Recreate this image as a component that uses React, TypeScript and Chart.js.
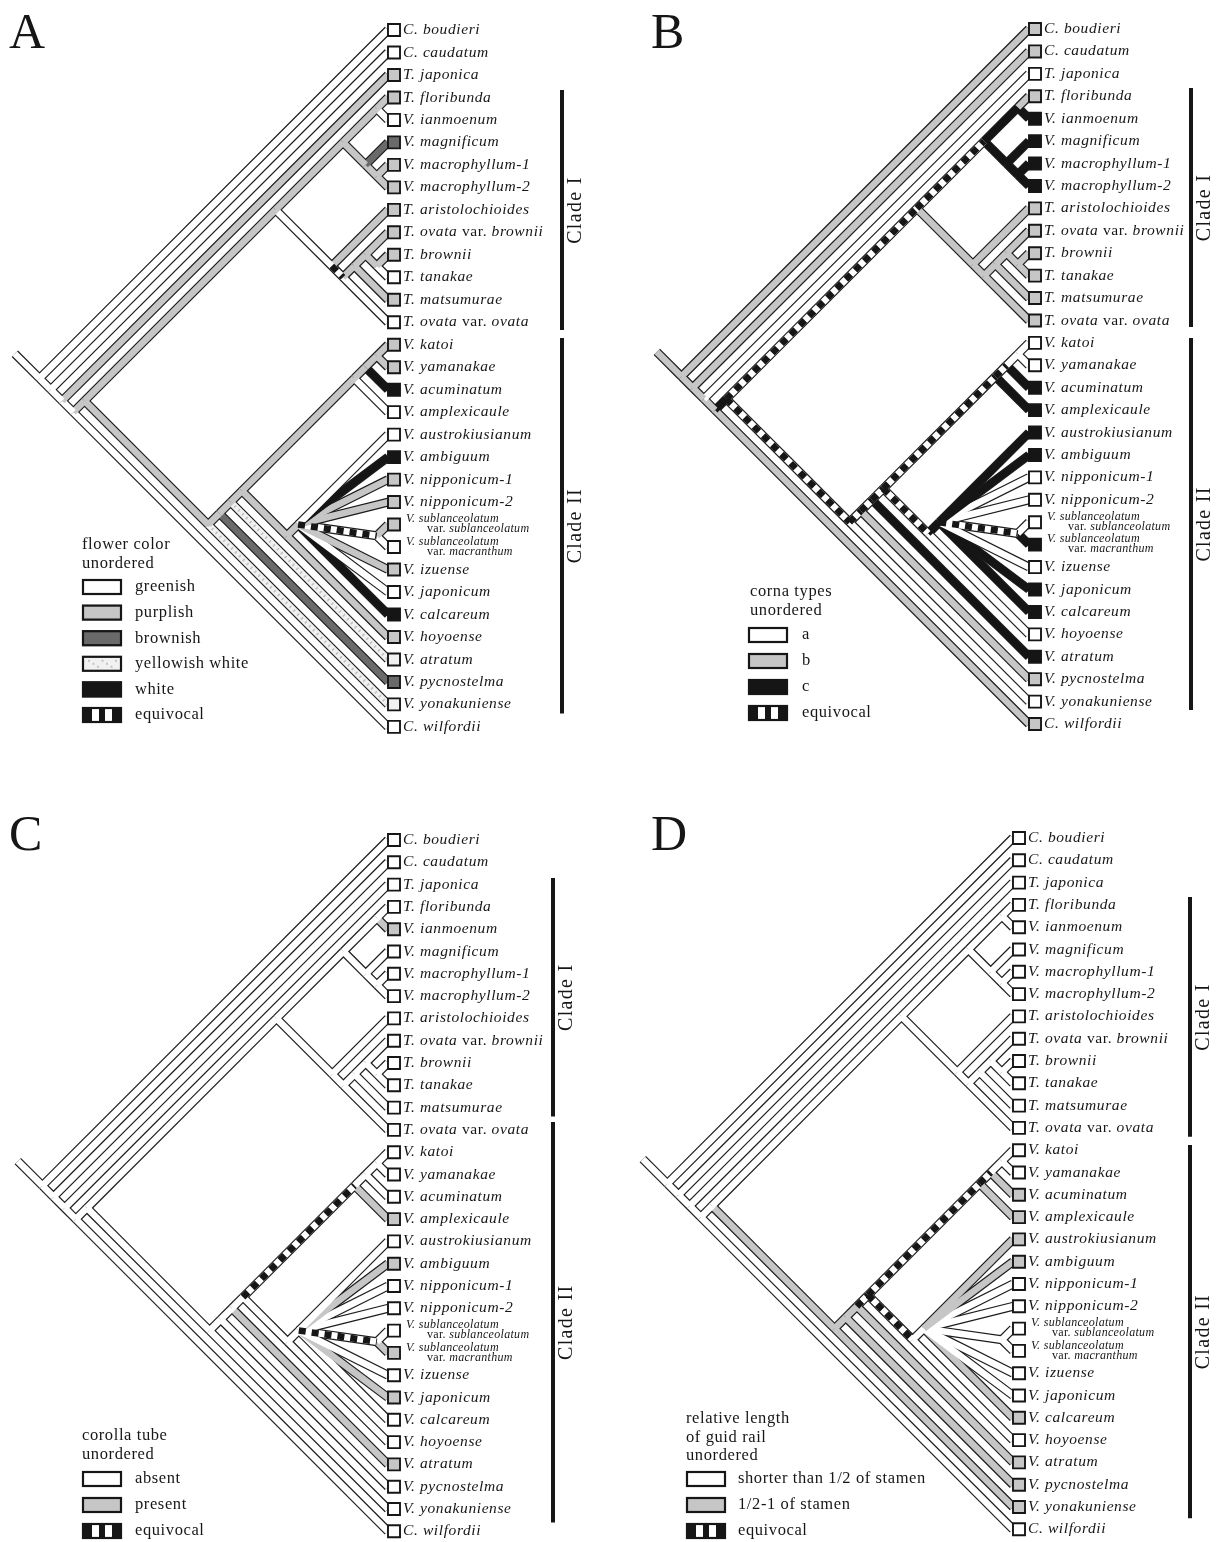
import React, { useEffect, useRef } from "react";
import { Chart, registerables } from "chart.js";

Chart.register(...registerables);

const EQ = -1;

const TAXA: string[] = [
  "C. boudieri",
  "C. caudatum",
  "T. japonica",
  "T. floribunda",
  "V. ianmoenum",
  "V. magnificum",
  "V. macrophyllum-1",
  "V. macrophyllum-2",
  "T. aristolochioides",
  "T. ovata var. brownii",
  "T. brownii",
  "T. tanakae",
  "T. matsumurae",
  "T. ovata var. ovata",
  "V. katoi",
  "V. yamanakae",
  "V. acuminatum",
  "V. amplexicaule",
  "V. austrokiusianum",
  "V. ambiguum",
  "V. nipponicum-1",
  "V. nipponicum-2",
  "V. sublanceolatum\nvar. sublanceolatum",
  "V. sublanceolatum\nvar. macranthum",
  "V. izuense",
  "V. japonicum",
  "V. calcareum",
  "V. hoyoense",
  "V. atratum",
  "V. pycnostelma",
  "V. yonakuniense",
  "C. wilfordii",
];

// internal nodes: [id, children]; numbers are tip indices into TAXA
const TREE: [string, (string | number)[]][] = [
  ["root", [0, "n1"]],
  ["n1", [1, "n2"]],
  ["n2", [2, "n3"]],
  ["n3", ["cladeIandII", 31]],
  ["cladeIandII", ["cladeI", "cladeII"]],
  ["cladeI", ["Ia", "Ib"]],
  ["Ia", ["floribundaPair", "magnificumGroup"]],
  ["floribundaPair", [3, 4]],
  ["magnificumGroup", [5, "macrophyllumPair"]],
  ["macrophyllumPair", [6, 7]],
  ["Ib", [8, "ovataGroup"]],
  ["ovataGroup", ["matsumuraeGroup", 13]],
  ["matsumuraeGroup", ["browniiGroup", 12]],
  ["browniiGroup", [9, "tanakaePair"]],
  ["tanakaePair", [10, 11]],
  ["cladeII", ["pycnostelmaGroup", 30]],
  ["pycnostelmaGroup", ["atratumGroup", 29]],
  ["atratumGroup", ["coreII", 28]],
  ["coreII", ["katoiGroup", "hoyoenseGroup"]],
  ["katoiGroup", ["acuminatumGroup", 17]],
  ["acuminatumGroup", ["katoiPair", 16]],
  ["katoiPair", [14, 15]],
  ["hoyoenseGroup", ["nipponicumFan", 27]],
  ["nipponicumFan", [18, 19, 20, 21, "sublanceolatumPair", 24, 25, 26]],
  ["sublanceolatumPair", [22, 23]],
];

// ---- A: flower color
const LEGEND_A = ["greenish", "purplish", "brownish", "yellowish white", "white"];
const STYLES_A = ["white", "grey", "dark", "speck", "black"];
const TIP_STATES_A = [0, 0, 1, 1, 0, 2, 1, 1, 1, 1, 1, 0, 1, 0, 1, 1, 4, 0, 0, 4, 1, 1, 1, 0, 1, 0, 4, 1, 3, 2, 3, 0];
const NODE_STATES_A = [0, 0, 0, 0, 1, 1, 1, 1, 1, 1, 0, EQ, 1, 1, 1, 1, 1, 1, 1, 1, 1, 1, 1, 1, EQ];

// ---- B: corona types
const LEGEND_B = ["a", "b", "c"];
const STYLES_B = ["white", "grey", "black"];
const TIP_STATES_B = [1, 1, 0, 1, 2, 2, 2, 2, 1, 1, 1, 1, 1, 1, 0, 0, 2, 2, 2, 2, 0, 0, 0, 2, 0, 2, 2, 0, 2, 1, 0, 1];
const NODE_STATES_B = [1, 1, 1, 1, 2, EQ, EQ, 2, 2, 2, 1, 1, 1, 1, 1, EQ, EQ, EQ, EQ, EQ, EQ, 0, EQ, 2, EQ];

// ---- C: corolla tube
const LEGEND_C = ["absent", "present"];
const STYLES_C = ["white", "grey"];
const TIP_STATES_C = [0, 0, 0, 0, 1, 0, 0, 0, 0, 0, 0, 0, 0, 0, 0, 0, 0, 1, 0, 1, 0, 0, 0, 1, 0, 1, 0, 0, 1, 0, 0, 0];
const NODE_STATES_C = [0, 0, 0, 0, 0, 0, 0, 0, 0, 0, 0, 0, 0, 0, 0, 0, 0, 0, 0, EQ, 0, 0, 0, 0, EQ];

// ---- D: relative length of guide rail
const LEGEND_D = ["shorter than 1/2 of stamen", "1/2-1 of stamen"];
const STYLES_D = ["white", "grey"];
const TIP_STATES_D = [0, 0, 0, 0, 0, 0, 0, 0, 0, 0, 0, 0, 0, 0, 0, 0, 1, 1, 1, 1, 0, 0, 0, 0, 0, 0, 1, 0, 1, 1, 1, 0];
const NODE_STATES_D = [0, 0, 0, 0, 0, 0, 0, 0, 0, 0, 0, 0, 0, 0, 0, 1, 1, 1, EQ, EQ, EQ, 0, EQ, 0, 0];

type Pt = { x: number; y: number };
type Panel = {
  letter: string;
  left: number;
  top: number;
  tipX: number;
  y0: number;
  step: number;
  barX: number;
  bars: [number, number, string][];
  tips: number[];
  nodes: number[];
  legend: string[];
  styles: string[];
  legendTitle: string[];
  lg: { x: number; titleY: number; titleStep: number; swX: number; labelX: number; itemY: number; itemStep: number };
};

const PANELS: Panel[] = [
  {
    letter: "A", left: 0, top: 0, tipX: 388, y0: 30, step: 22.48, barX: 562,
    bars: [[2.67, 13.35, "Clade I"], [13.7, 30.4, "Clade II"]],
    tips: TIP_STATES_A, nodes: NODE_STATES_A, legend: LEGEND_A, styles: STYLES_A,
    legendTitle: ["flower color", "unordered"],
    lg: { x: 82, titleY: 545, titleStep: 18.5, swX: 82, labelX: 135, itemY: 587, itemStep: 25.6 },
  },
  {
    letter: "B", left: 611, top: 0, tipX: 418, y0: 29, step: 22.42, barX: 580,
    bars: [[2.63, 13.29, "Clade I"], [13.78, 30.37, "Clade II"]],
    tips: TIP_STATES_B, nodes: NODE_STATES_B, legend: LEGEND_B, styles: STYLES_B,
    legendTitle: ["corna types", "unordered"],
    lg: { x: 139, titleY: 592, titleStep: 18.5, swX: 137, labelX: 191, itemY: 635, itemStep: 26 },
  },
  {
    letter: "C", left: 0, top: 771, tipX: 388, y0: 69, step: 22.3, barX: 553,
    bars: [[1.7, 12.4, "Clade I"], [12.65, 30.6, "Clade II"]],
    tips: TIP_STATES_C, nodes: NODE_STATES_C, legend: LEGEND_C, styles: STYLES_C,
    legendTitle: ["corolla tube", "unordered"],
    lg: { x: 82, titleY: 665, titleStep: 19, swX: 82, labelX: 135, itemY: 708, itemStep: 26 },
  },
  {
    letter: "D", left: 611, top: 771, tipX: 402, y0: 67, step: 22.3, barX: 579,
    bars: [[2.65, 13.4, "Clade I"], [13.77, 30.5, "Clade II"]],
    tips: TIP_STATES_D, nodes: NODE_STATES_D, legend: LEGEND_D, styles: STYLES_D,
    legendTitle: ["relative length", "of guid rail", "unordered"],
    lg: { x: 75, titleY: 648, titleStep: 18.5, swX: 75, labelX: 127, itemY: 708, itemStep: 26 },
  },
];

const W = 611;
const H = 771;
const STUB = 1.1;
const OUTLINE = "#1c1c1c";
const INK = "#161616";
const SERIF = '"Liberation Serif", "Times New Roman", Times, serif';
const FILL: Record<string, string> = {
  white: "#ffffff",
  grey: "#c6c6c6",
  dark: "#6a6a6a",
  speck: "#f1f1f1",
  black: "#151515",
};

const childMap = new Map<string, (string | number)[]>(TREE.map(([id, kids]) => [id, kids]));
const nodeIndex = new Map<string, number>(TREE.map(([id], i) => [id, i]));

function tipSpan(id: string | number): [number, number] {
  if (typeof id === "number") return [id, id];
  let lo = Infinity;
  let hi = -Infinity;
  for (const k of childMap.get(id)!) {
    const [a, b] = tipSpan(k);
    lo = Math.min(lo, a);
    hi = Math.max(hi, b);
  }
  return [lo, hi];
}

function nodePos(id: string | number): Pt {
  const [lo, hi] = tipSpan(id);
  return { x: -(hi - lo) / 2, y: (lo + hi) / 2 };
}

function buildDatasets(p: Panel) {
  const branches: { a: Pt; b: Pt; s: number }[] = [];
  const r = nodePos("root");
  branches.push({ a: { x: r.x - STUB, y: r.y - STUB }, b: r, s: p.nodes[0] });
  for (const [id, kids] of TREE) {
    const pp = nodePos(id);
    for (const k of kids) {
      const s = typeof k === "number" ? p.tips[k] : p.nodes[nodeIndex.get(k)!];
      branches.push({ a: pp, b: nodePos(k), s });
    }
  }
  const line = (data: Pt[], color: string, width: number, order: number, dash: number[] = []) => ({
    data,
    showLine: true,
    borderColor: color,
    borderWidth: width,
    pointRadius: 0,
    pointHoverRadius: 0,
    borderCapStyle: "butt",
    borderDash: dash,
    order,
    clip: false,
  });
  const ds: any[] = [];
  for (const br of branches) {
    const data = [br.a, br.b];
    ds.push(line(data, OUTLINE, 9, 6));
    const style = br.s === EQ ? "white" : p.styles[br.s];
    ds.push(line(data, FILL[style], 6.6, 5));
    if (br.s === EQ) ds.push(line(data, INK, 6.6, 4, [7, 6]));
    else if (style === "speck") ds.push(line(data, "#bdbdbd", 3, 4, [1.5, 4]));
  }
  const bx = (p.barX - p.tipX) / p.step;
  for (const [b0, b1] of p.bars) {
    ds.push(line([{ x: bx, y: b0 }, { x: bx, y: b1 }], INK, 4, 3));
  }
  ds.push({
    data: TAXA.map((_, i) => ({ x: 6 / p.step, y: i })),
    showLine: false,
    pointStyle: "rect",
    pointRadius: 8.5,
    pointHoverRadius: 8.5,
    pointBorderWidth: 1.9,
    pointBorderColor: INK,
    pointBackgroundColor: p.tips.map((s) => FILL[p.styles[s]]),
    order: 1,
    clip: false,
  });
  return ds;
}

function splitVar(s: string) {
  const i = s.indexOf("var.");
  if (i < 0) return [{ t: s, it: true }];
  return [
    { t: s.slice(0, i), it: true },
    { t: "var.", it: false },
    { t: s.slice(i + 4), it: true },
  ];
}

function drawRich(ctx: any, parts: { t: string; it: boolean }[], x: number, y: number, size: number, sp: number) {
  let cx = x;
  ctx.letterSpacing = `${sp}px`;
  for (const part of parts) {
    ctx.font = `${part.it ? "italic " : ""}${size}px ${SERIF}`;
    ctx.fillText(part.t, cx, y);
    cx += ctx.measureText(part.t).width;
  }
}

function swatch(ctx: any, x: number, y: number, style: string) {
  const w = 40;
  const h = 16;
  const top = y - h / 2;
  ctx.fillStyle = style === "equiv" ? "#fff" : FILL[style];
  ctx.fillRect(x, top, w, h);
  if (style === "equiv") {
    ctx.fillStyle = INK;
    ctx.fillRect(x, top, 10, h);
    ctx.fillRect(x + 17, top, 6, h);
    ctx.fillRect(x + 30, top, 10, h);
  }
  if (style === "speck") {
    ctx.fillStyle = "#c4c4c4";
    for (let i = 0; i < 7; i++) ctx.fillRect(x + 6 + i * 4.5, top + 4 + (i % 3) * 3, 2, 2);
  }
  ctx.strokeStyle = INK;
  ctx.lineWidth = 2.2;
  ctx.strokeRect(x + 1, top + 1, w - 2, h - 2);
}

function makeTextPlugin(p: Panel) {
  return {
    id: "treeText" + p.letter,
    afterDatasetsDraw(chart: any) {
      const ctx = chart.ctx;
      const xs = chart.scales.x;
      const ys = chart.scales.y;
      ctx.save();
      ctx.fillStyle = INK;
      ctx.textAlign = "left";
      ctx.textBaseline = "middle";
      const lx = xs.getPixelForValue(0) + 15;
      TAXA.forEach((name, i) => {
        const py = ys.getPixelForValue(i);
        if (name.includes("\n")) {
          const [l1, l2] = name.split("\n");
          drawRich(ctx, splitVar(l1), lx + 3, py - 5.5, 12, 0.3);
          drawRich(ctx, splitVar(l2), lx + 24, py + 4.5, 12, 0.3);
        } else {
          drawRich(ctx, splitVar(name), lx, py, 15.5, 0.6);
        }
      });
      // clade labels
      const bpx = xs.getPixelForValue((p.barX - p.tipX) / p.step);
      for (const [b0, b1, label] of p.bars) {
        const cy = (ys.getPixelForValue(b0) + ys.getPixelForValue(b1)) / 2;
        ctx.save();
        ctx.translate(bpx + 14, cy);
        ctx.rotate(-Math.PI / 2);
        ctx.textAlign = "center";
        ctx.font = `20px ${SERIF}`;
        ctx.letterSpacing = "1.3px";
        ctx.fillText(label, 0, 0);
        ctx.restore();
      }
      // panel letter
      ctx.letterSpacing = "0px";
      ctx.textBaseline = "alphabetic";
      ctx.font = `50px ${SERIF}`;
      ctx.fillText(p.letter, p.letter === "A" || p.letter === "C" ? 9 : 40, p.top === 0 ? 48 : 79);
      // legend
      ctx.textBaseline = "middle";
      ctx.font = `16.5px ${SERIF}`;
      ctx.letterSpacing = "0.6px";
      p.legendTitle.forEach((t, i) => ctx.fillText(t, p.lg.x, p.lg.titleY + i * p.lg.titleStep));
      const items = [...p.legend.map((l, i) => [l, p.styles[i]]), ["equivocal", "equiv"]];
      items.forEach(([label, style], i) => {
        const y = p.lg.itemY + i * p.lg.itemStep;
        swatch(ctx, p.lg.swX, y, style);
        ctx.fillStyle = INK;
        ctx.font = `16.5px ${SERIF}`;
        ctx.fillText(label, p.lg.labelX, y);
      });
      ctx.restore();
    },
  };
}

function TreePanel({ panel }: { panel: Panel }) {
  const ref = useRef<HTMLCanvasElement>(null);
  useEffect(() => {
    const p = panel;
    const chart = new Chart(ref.current!, {
      type: "scatter",
      data: { datasets: buildDatasets(p) },
      options: {
        animation: false,
        responsive: false,
        maintainAspectRatio: false,
        devicePixelRatio: 1,
        events: [],
        layout: { padding: 0, autoPadding: false },
        scales: {
          x: { type: "linear", display: false, min: -p.tipX / p.step, max: (W - p.tipX) / p.step },
          y: { type: "linear", display: false, reverse: true, min: -p.y0 / p.step, max: (H - p.y0) / p.step },
        },
        plugins: { legend: { display: false }, tooltip: { enabled: false } },
      } as any,
      plugins: [makeTextPlugin(p)],
    });
    return () => chart.destroy();
  }, [panel]);
  return (
    <canvas
      ref={ref}
      width={W}
      height={H}
      style={{ position: "absolute", left: panel.left, top: panel.top, width: W, height: H, display: "block" }}
    />
  );
}

export default function App() {
  return (
    <div style={{ position: "absolute", left: 0, top: 0, width: 1222, height: 1542, background: "#fff", overflow: "hidden" }}>
      {PANELS.map((p) => (
        <TreePanel key={p.letter} panel={p} />
      ))}
    </div>
  );
}
